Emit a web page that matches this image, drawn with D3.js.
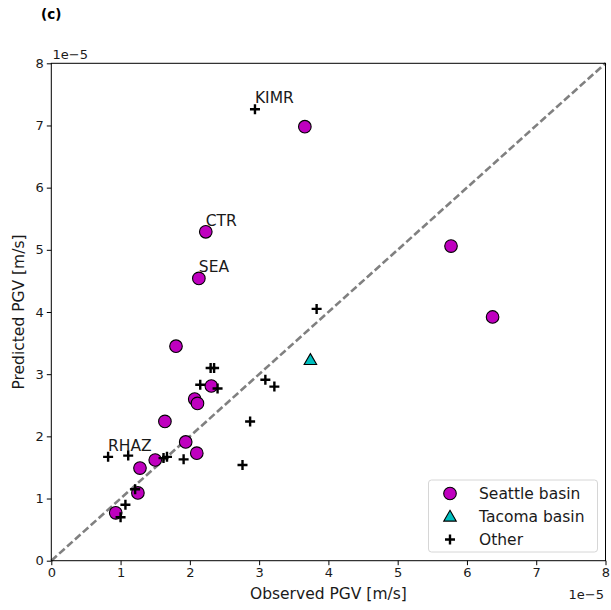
<!DOCTYPE html>
<html>
<head>
<meta charset="utf-8">
<script src="https://cdn.jsdelivr.net/npm/d3@7"></script>
<style>
  html, body { margin: 0; padding: 0; background: #fff; }
  svg { display: block; font-family: "DejaVu Sans", sans-serif; }
</style>
</head>
<body>
<svg id="chart" width="611" height="610"></svg>
<script>
// PGV values in units of 1e-5 m/s: observed (x) vs predicted (y)
const seattleObs  = [3.66, 2.23, 2.13, 5.77, 6.37, 1.80, 2.31, 2.07, 2.11, 1.64, 1.94, 2.10, 1.50, 1.28, 1.25, 0.93];
const seattlePred = [6.98, 5.29, 4.54, 5.06, 3.92, 3.45, 2.81, 2.60, 2.53, 2.24, 1.91, 1.73, 1.62, 1.49, 1.09, 0.77];
const seattleNames = ["", "CTR", "SEA", "", "", "", "", "", "", "", "", "", "", "", "", ""];

const tacomaObs  = [3.74];
const tacomaPred = [3.23];

const otherObs  = [2.94, 0.82, 1.11, 1.62, 1.67, 1.91, 2.15, 2.40, 2.30, 2.35, 2.76, 2.87, 3.09, 3.22, 3.83, 1.21, 1.07, 1.00];
const otherPred = [7.26, 1.67, 1.69, 1.65, 1.67, 1.63, 2.83, 2.77, 3.10, 3.10, 1.54, 2.24, 2.91, 2.80, 4.05, 1.15, 0.90, 0.70];
const otherNames = ["KIMR", "RHAZ", "", "", "", "", "", "", "", "", "", "", "", "", "", "", "", ""];

const xTicks = [0, 1, 2, 3, 4, 5, 6, 7, 8];
const yTicks = [0, 1, 2, 3, 4, 5, 6, 7, 8];
const axisDomain = [0, 8];
const offsetText = "1e\u22125";
const legendLabels = ["Seattle basin", "Tacoma basin", "Other"];

const svg = d3.select("#chart");
const plot = { left: 51.3, right: 605.5, top: 63.3, bottom: 560.7 };

const x = d3.scaleLinear().domain(axisDomain).range([plot.left, plot.right]);
const y = d3.scaleLinear().domain(axisDomain).range([plot.bottom, plot.top]);

const toPoints = (xs, ys, names) => xs.map((v, i) => ({ x: v, y: ys[i], name: names ? names[i] : "" }));
const seattle = toPoints(seattleObs, seattlePred, seattleNames);
const tacoma = toPoints(tacomaObs, tacomaPred);
const other = toPoints(otherObs, otherPred, otherNames);

const magenta = "#bf00bf";
const cyan = "#00bfbf";

// panel tag
svg.append("text").attr("x", 41).attr("y", 18.5)
  .attr("font-size", 13.5).attr("font-weight", "bold").text("(c)");

// 1:1 reference line
svg.append("line")
  .attr("x1", x(axisDomain[0])).attr("y1", y(axisDomain[0]))
  .attr("x2", x(axisDomain[1])).attr("y2", y(axisDomain[1]))
  .attr("stroke", "#808080").attr("stroke-width", 2.6)
  .attr("stroke-dasharray", "7.4,3.2");

// Seattle basin stations
svg.append("g").selectAll("circle").data(seattle).join("circle")
  .attr("cx", d => x(d.x)).attr("cy", d => y(d.y)).attr("r", 6.3)
  .attr("fill", magenta).attr("stroke", "#000").attr("stroke-width", 1.1);

// Tacoma basin stations
const tri = d3.symbol().type(d3.symbolTriangle).size(68);
svg.append("g").selectAll("path").data(tacoma).join("path")
  .attr("d", tri)
  .attr("transform", d => `translate(${x(d.x)},${y(d.y) + 1})`)
  .attr("fill", cyan).attr("stroke", "#000").attr("stroke-width", 1.1);

// Other stations
const plusPath = "M-5,0H5M0,-5V5";
svg.append("g").selectAll("path").data(other).join("path")
  .attr("d", plusPath)
  .attr("transform", d => `translate(${x(d.x)},${y(d.y)})`)
  .attr("stroke", "#000").attr("stroke-width", 2.4).attr("fill", "none");

// station labels
const labelled = seattle.concat(other).filter(d => d.name);
svg.append("g").selectAll("text").data(labelled).join("text")
  .attr("x", d => x(d.x)).attr("y", d => y(d.y + 0.1))
  .attr("font-size", 15.5).attr("fill", "#1a1a1a").text(d => d.name);

// axes frame
svg.append("rect")
  .attr("x", plot.left).attr("y", plot.top)
  .attr("width", plot.right - plot.left).attr("height", plot.bottom - plot.top)
  .attr("fill", "none").attr("stroke", "#000").attr("stroke-width", 1);

const xAxis = svg.append("g").attr("transform", `translate(0,${plot.bottom})`)
  .call(d3.axisBottom(x).tickValues(xTicks).tickFormat(d3.format("d")).tickSize(4.5).tickPadding(3));
const yAxis = svg.append("g").attr("transform", `translate(${plot.left},0)`)
  .call(d3.axisLeft(y).tickValues(yTicks).tickFormat(d3.format("d")).tickSize(4.5).tickPadding(3));
[xAxis, yAxis].forEach(g => {
  g.select(".domain").remove();
  g.selectAll("line").attr("stroke", "#000").attr("stroke-width", 1);
  g.selectAll("text").attr("font-size", 13).attr("fill", "#1a1a1a")
    .attr("font-family", "DejaVu Sans, sans-serif");
});

// offset texts
svg.append("text").attr("x", 52.5).attr("y", 59).attr("font-size", 13)
  .attr("fill", "#1a1a1a").text(offsetText);
svg.append("text").attr("x", 604).attr("y", 598.5).attr("font-size", 13)
  .attr("text-anchor", "end").attr("fill", "#1a1a1a").text(offsetText);

// axis titles
svg.append("text").attr("x", (plot.left + plot.right) / 2).attr("y", 599)
  .attr("text-anchor", "middle").attr("font-size", 15.5).attr("fill", "#1a1a1a")
  .text("Observed PGV [m/s]");
svg.append("text")
  .attr("transform", `translate(24,${(plot.top + plot.bottom) / 2}) rotate(-90)`)
  .attr("text-anchor", "middle").attr("font-size", 15.5).attr("fill", "#1a1a1a")
  .text("Predicted PGV [m/s]");

// legend
const lg = svg.append("g");
lg.append("rect").attr("x", 428.5).attr("y", 480).attr("width", 169).attr("height", 72)
  .attr("rx", 3).attr("fill", "#fff").attr("fill-opacity", 0.8)
  .attr("stroke", "#d6d6d6").attr("stroke-width", 1);
const rowY = [493.5, 516.5, 539.5];
lg.append("circle").attr("cx", 450).attr("cy", rowY[0]).attr("r", 6.3)
  .attr("fill", magenta).attr("stroke", "#000").attr("stroke-width", 1.1);
lg.append("path").attr("d", tri).attr("transform", `translate(450,${rowY[1] + 1})`)
  .attr("fill", cyan).attr("stroke", "#000").attr("stroke-width", 1.1);
lg.append("path").attr("d", plusPath).attr("transform", `translate(450,${rowY[2]})`)
  .attr("stroke", "#000").attr("stroke-width", 2.4);
lg.selectAll("text.lab").data(legendLabels).join("text")
  .attr("class", "lab").attr("x", 479).attr("y", (d, i) => rowY[i] + 5.5)
  .attr("font-size", 15.5).attr("fill", "#1a1a1a").text(d => d);
</script>
</body>
</html>
